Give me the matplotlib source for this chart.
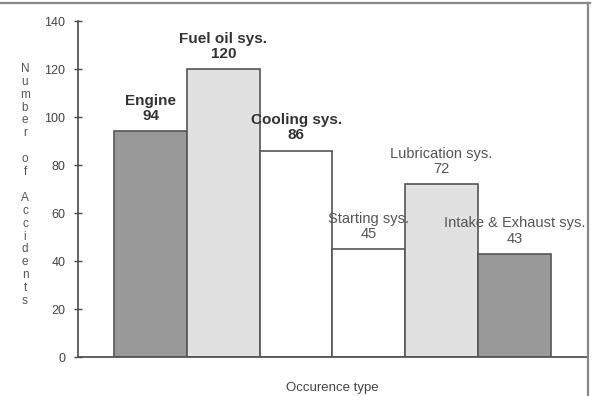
import matplotlib
matplotlib.use("Agg")
import matplotlib.pyplot as plt
from matplotlib.lines import Line2D

categories = ["Engine", "Fuel oil sys.", "Cooling sys.", "Starting sys.",
              "Lubrication sys.", "Intake & Exhaust sys."]
values = [94, 120, 86, 45, 72, 43]
colors = ["#999999", "#e1e1e1", "#ffffff", "#ffffff", "#e1e1e1", "#999999"]
bold = [True, True, True, False, False, False]
yticks = [0, 20, 40, 60, 80, 100, 120, 140]

W, H = 592, 396
fig = plt.figure(figsize=(W / 100, H / 100), dpi=100)
ax = fig.add_axes([78 / W, (H - 357) / H, (587 - 78) / W, (357 - 21) / H])

x = list(range(len(values)))
ax.bar(x, values, width=1.0, color=colors, edgecolor="#555555", linewidth=1.2)
ax.set_xlim(-1.0, 6.0)
ax.set_ylim(0, 140)
ax.set_yticks(yticks)
ax.set_yticklabels([str(t) for t in yticks], fontsize=9, color="#444444",
                   family=["Liberation Sans Narrow", "Liberation Sans", "DejaVu Sans"])
ax.set_xticks([])
ax.tick_params(axis="y", direction="inout", length=6, width=1, color="#444444", pad=6)
for s in ["top", "right"]:
    ax.spines[s].set_visible(False)
for s in ["left", "bottom"]:
    ax.spines[s].set_color("#555555")
    ax.spines[s].set_linewidth(1.3)

for i, (c, v, b) in enumerate(zip(categories, values, bold)):
    ax.text(i, v + 3.4, f"{c}\n{v}", ha="center", va="bottom",
            fontsize=11 if b else 10.5, fontweight="bold" if b else "normal",
            color="#333333" if b else "#555555", linespacing=1.12,
            family=["Liberation Sans", "DejaVu Sans"])

ylab = "Number of Accidents"
fig.text(25 / W, (H - 185) / H, "\n".join(ylab), ha="center", va="center",
         fontsize=8.5, color="#555555", linespacing=1.1,
         family=["Liberation Sans", "DejaVu Sans"])

ax.set_xlabel("Occurence type", fontsize=9.5, color="#444444", labelpad=18,
              family=["Liberation Sans", "DejaVu Sans"])

# outer frame lines
fig.add_artist(Line2D([0, 590 / W], [1 - 3 / H, 1 - 3 / H], transform=fig.transFigure,
                      color="#888888", linewidth=1.6))
fig.add_artist(Line2D([587.5 / W, 587.5 / W], [1 - 3 / H, 0], transform=fig.transFigure,
                      color="#888888", linewidth=1.6))

fig.savefig("out.png", dpi=100, facecolor="white")
